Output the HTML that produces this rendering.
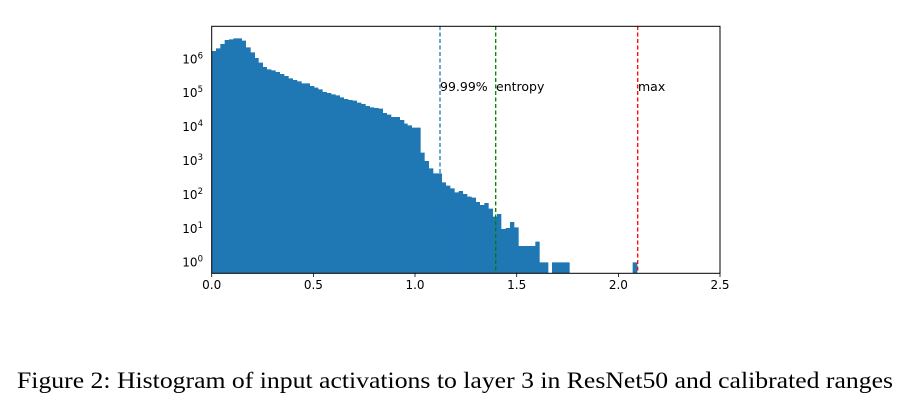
<!DOCTYPE html>
<html><head><meta charset="utf-8"><style>
html,body{margin:0;padding:0;background:#fff;}
svg{display:block;}
</style></head><body>
<svg width="910" height="408" xmlns="http://www.w3.org/2000/svg">
<g transform="translate(160,20) scale(0.33333)" fill="#1f77b4">
<path d="M155,760 V93 H168 V85 H181 V72 H194 V60 H207 V58 H220 V55 H246 V62 H258 V82 H272 V97 H285 V114 H296 V128 H309 V141 H321 V148 H334 V151 H347 V156 H360 V162 H373 V168 H386 V175 H399 V180 H412 V184 H425 V190 H450 V198 H463 V203 H475 V208 H488 V216 H501 V219 H514 V223 H527 V226 H540 V232 H552 V237 H565 V240 H578 V242 H591 V248 H604 V252 H617 V258 H630 V262 H643 V264 H656 V266 H669 V279 H681 V284 H694 V291 H720 V300 H733 V311 H743 V316 H756 V323 H782 V398 H794 V423 H807 V445 H820 V460 H846 V487 H858 V497 H871 V505 H884 V517 H898 V760 Z"/>
</g>
<g transform="translate(400,20) scale(0.33333)" fill="#1f77b4">
<path d="M176,760 V513 H189 V522 H202 V530 H215 V533 H228 V546 H240 V555 H253 V549 H266 V566 H279 V590 H291 V582 H304 V627 H317 V624 H330 V606 H343 V622 H356 V678 H406 V665 H419 V727 H445 V760 Z M456,760 V727 H509 V760 Z M698,760 V727 H712 V760 Z"/>
</g>
<g stroke-width="1.3" stroke-dasharray="4,2.5">
<line x1="440" y1="26" x2="440" y2="273" stroke="#1f77b4"/>
<line x1="495.7" y1="26" x2="495.7" y2="273" stroke="#007f00"/>
<line x1="637.7" y1="26" x2="637.7" y2="273" stroke="#ff0000"/>
</g>
<g font-family="DejaVu Sans, sans-serif" font-size="12.5" fill="#000">
<text x="440" y="91">99.99%</text>
<text x="496" y="91">entropy</text>
<text x="638" y="91">max</text>
</g>
<rect x="211.7" y="26.3" width="508.3" height="247" fill="none" stroke="#000" stroke-width="1"/>
<g stroke="#000" stroke-width="0.8">
<line x1="211.7" y1="273.3" x2="211.7" y2="277"/>
<line x1="313.4" y1="273.3" x2="313.4" y2="277"/>
<line x1="415" y1="273.3" x2="415" y2="277"/>
<line x1="516.7" y1="273.3" x2="516.7" y2="277"/>
<line x1="618.4" y1="273.3" x2="618.4" y2="277"/>
<line x1="720" y1="273.3" x2="720" y2="277"/>
</g>
<g font-family="DejaVu Sans, sans-serif" font-size="12" fill="#000" text-anchor="middle">
<text x="211.7" y="289">0.0</text>
<text x="313.4" y="289">0.5</text>
<text x="415" y="289">1.0</text>
<text x="516.7" y="289">1.5</text>
<text x="618.4" y="289">2.0</text>
<text x="720" y="289">2.5</text>
</g>
<g id="yt" stroke="#000" stroke-width="0.8"></g>
<g font-family="DejaVu Sans, sans-serif" font-size="12" fill="#000" text-anchor="end">
<text x="203" y="266.7">10<tspan font-size="8.5" dy="-5">0</tspan></text>
<text x="203" y="232.8">10<tspan font-size="8.5" dy="-5">1</tspan></text>
<text x="203" y="198.9">10<tspan font-size="8.5" dy="-5">2</tspan></text>
<text x="203" y="165">10<tspan font-size="8.5" dy="-5">3</tspan></text>
<text x="203" y="131.1">10<tspan font-size="8.5" dy="-5">4</tspan></text>
<text x="203" y="97.2">10<tspan font-size="8.5" dy="-5">5</tspan></text>
<text x="203" y="63.3">10<tspan font-size="8.5" dy="-5">6</tspan></text>
</g>
<text x="17" y="388" font-family="Liberation Serif, serif" font-size="23" textLength="876" lengthAdjust="spacingAndGlyphs">Figure 2: Histogram of input activations to layer 3 in ResNet50 and calibrated ranges</text>
<script>
var g=document.getElementById('yt'),s='';
var y0=262.3,d=33.9;
for(var k=-1;k<=6;k++){
 var y=y0-k*d;
 if(k>=0) s+='<line x1="208" x2="211.7" y1="'+y+'" y2="'+y+'"/>';
 for(var m=2;m<=9;m++){var yy=y-Math.log10(m)*d; if(yy<273.3&&yy>26.3) s+='<line x1="209.7" x2="211.7" y1="'+yy+'" y2="'+yy+'" stroke-width="0.6"/>';}
}
g.innerHTML=s;
</script>
</svg>
</body></html>
